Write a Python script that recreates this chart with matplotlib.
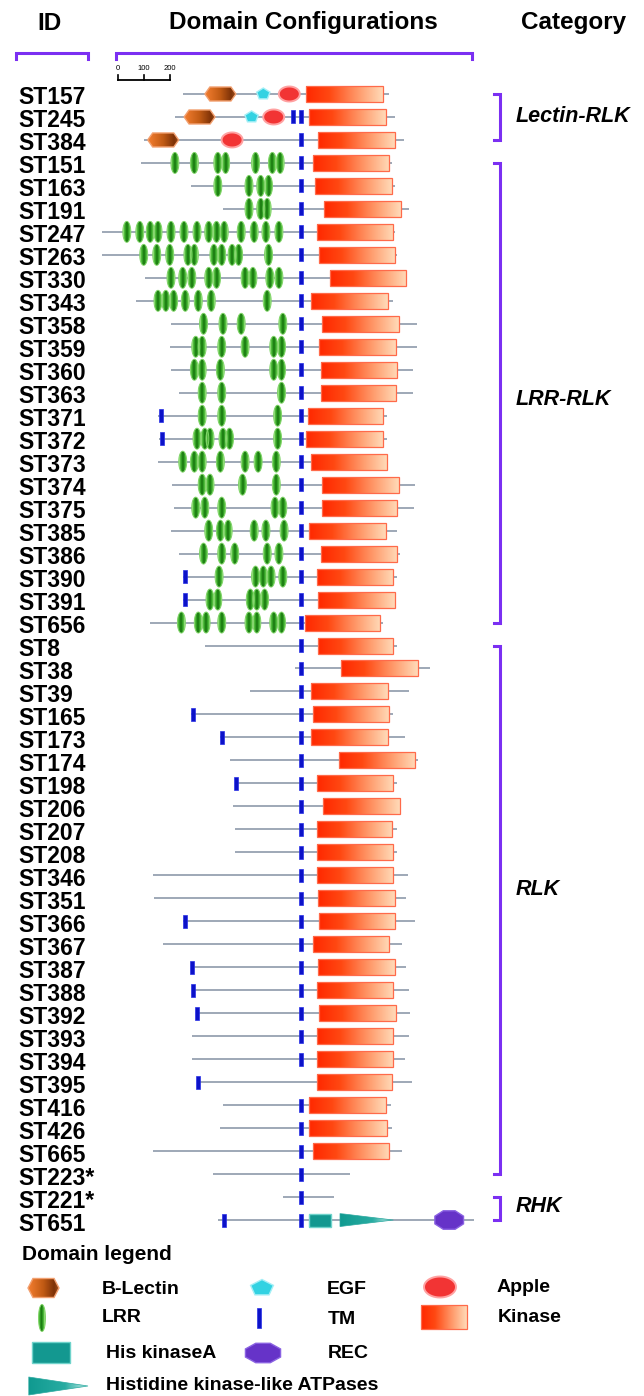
import numpy as np
import matplotlib
matplotlib.use("Agg")
import matplotlib.pyplot as plt
from matplotlib.patches import Polygon
from matplotlib.colors import LinearSegmentedColormap
from matplotlib.transforms import blended_transform_factory

plt.rcParams['font.family'] = ['Liberation Sans', 'DejaVu Sans']

# ---- data: positions in aa, relative to the aligned TM domain (0) ----
ids = ["ST157", "ST245", "ST384", "ST151", "ST163", "ST191", "ST247", "ST263", "ST330", "ST343",
       "ST358", "ST359", "ST360", "ST363", "ST371", "ST372", "ST373", "ST374", "ST375", "ST385",
       "ST386", "ST390", "ST391", "ST656", "ST8", "ST38", "ST39", "ST165", "ST173", "ST174",
       "ST198", "ST206", "ST207", "ST208", "ST346", "ST351", "ST366", "ST367", "ST387", "ST388",
       "ST392", "ST393", "ST394", "ST395", "ST416", "ST426", "ST665", "ST223*", "ST221*", "ST651"]

starts = [-455, -485, -605, -615, -425, -300, -765, -765, -600, -635,
          -500, -505, -500, -470, -550, -545, -550, -495, -490, -500,
          -470, -455, -455, -580, -370, -25, -195, -425, -310, -275,
          -255, -260, -255, -255, -570, -565, -455, -530, -425, -420,
          -405, -420, -420, -400, -300, -310, -570, -340, -70, -320]

ends = [340, 360, 395, 350, 360, 415, 360, 370, 405, 355,
        445, 445, 430, 430, 330, 330, 330, 440, 435, 370,
        380, 370, 365, 315, 370, 495, 415, 355, 400, 450,
        370, 385, 370, 370, 410, 405, 440, 390, 405, 415,
        420, 415, 400, 425, 345, 350, 390, 190, 125, 665]

kinase = [(20, 315), (30, 325), (65, 360), (45, 340), (55, 350), (90, 385), (60, 355), (70, 360),
          (110, 405), (40, 335), (80, 375), (70, 365), (75, 370), (75, 365), (25, 315), (20, 315),
          (40, 330), (80, 375), (80, 370), (30, 325), (75, 370), (60, 355), (65, 360), (15, 305),
          (65, 355), (155, 450), (40, 335), (45, 340), (40, 335), (145, 440), (60, 355), (85, 380),
          (60, 350), (60, 355), (60, 355), (65, 360), (70, 360), (45, 340), (65, 360), (60, 355),
          (70, 365), (60, 355), (60, 355), (60, 350), (30, 325), (30, 330), (45, 340),
          None, None, None]

tm = [[], [-30, 0], [0], [0], [0], [0], [0], [0], [0], [0],
      [0], [0], [0], [0], [-540, 0], [-535, 0], [0], [0], [0], [0],
      [0], [-445, 0], [-445, 0], [0], [0], [0], [0], [-415, 0], [-305, 0], [0],
      [-250, 0], [0], [0], [0], [0], [0], [-445, 0], [0], [-420, 0], [-415, 0],
      [-400, 0], [0], [0], [-395], [0], [0], [0], [0], [0], [-295, 0]]

lrr = {
    "ST151": [-485, -410, -320, -290, -175, -110, -80],
    "ST163": [-320, -200, -155, -125],
    "ST191": [-200, -155, -130],
    "ST247": [-670, -620, -580, -550, -500, -450, -400, -355, -325, -295, -230, -180, -135, -85],
    "ST263": [-605, -555, -505, -435, -410, -335, -305, -265, -240, -125],
    "ST330": [-500, -455, -420, -355, -325, -215, -185, -120, -85],
    "ST343": [-550, -520, -490, -445, -395, -345, -130],
    "ST358": [-375, -300, -230, -70],
    "ST359": [-405, -380, -305, -215, -105, -75],
    "ST360": [-410, -380, -310, -105, -75],
    "ST363": [-380, -305, -75],
    "ST371": [-380, -305, -90],
    "ST372": [-400, -370, -350, -300, -275, -90],
    "ST373": [-455, -410, -380, -310, -215, -165, -95],
    "ST374": [-380, -350, -225, -95],
    "ST375": [-405, -370, -305, -100, -70],
    "ST385": [-355, -310, -280, -180, -135, -65],
    "ST386": [-375, -305, -255, -130, -85],
    "ST390": [-315, -175, -145, -115, -70],
    "ST391": [-350, -320, -195, -170, -140],
    "ST656": [-460, -395, -365, -305, -200, -170, -105, -75],
}
lectin = {"ST157": -310, "ST245": -390, "ST384": -530}
egf = {"ST157": -145, "ST245": -190}
apple = {"ST157": -45, "ST245": -105, "ST384": -265}
hiska = {"ST651": (30, 115)}
atpase = {"ST651": (150, 355)}
rec = {"ST651": 570}

cat_names = ["Lectin-RLK", "LRR-RLK", "RLK", "RHK"]
cat_first = ["ST157", "ST151", "ST8", "ST221*"]
cat_last = ["ST384", "ST656", "ST223*", "ST651"]

# ---- layout ----
W, H = 644, 1396
TM_PX = 301          # x pixel of the aligned TM
PX_PER_AA = 0.26     # scale bar: 200 aa ~ 52 px
ROW0 = 94            # y pixel of first row
ROW_H = 22.98        # row spacing in px
SX, SY = 1 / PX_PER_AA, 1 / ROW_H
PURPLE = '#7b2ff2'
cat_label_row = [1, 13.3, 34.6, 48.4]

fig = plt.figure(figsize=(W / 100, H / 100), dpi=100, facecolor='white')
ov = fig.add_axes([0, 0, 1, 1])
ov.axis('off')
ax = fig.add_axes([0, 0, 1, 1])
ax.axis('off')
ax.patch.set_visible(False)
XL = (-TM_PX / PX_PER_AA, (W - TM_PX) / PX_PER_AA)
YL = ((H - ROW0) / ROW_H, -ROW0 / ROW_H)
ax.set_xlim(XL); ax.set_ylim(YL)
ov.set_xlim(0, W); ov.set_ylim(H, 0)

lab_tr = blended_transform_factory(ov.transData, ax.transData)   # x px, y row
bar_tr = blended_transform_factory(ax.transData, ov.transData)   # x aa, y px

cm_kin = LinearSegmentedColormap.from_list('kin', [(0, '#ff2800'), (0.3, '#ff4812'), (0.72, '#ffa274'), (1, '#ffdab8')])
cm_lrr = LinearSegmentedColormap.from_list('lrr', [(0, '#16700c'), (0.35, '#2e9d22'), (0.75, '#5cc444'), (1, '#b6ec9e')])
cm_lec = LinearSegmentedColormap.from_list('lec', [(0, '#f47e30'), (0.5, '#c05a14'), (0.85, '#7e3208'), (1, '#a0501c')])
cm_atp = LinearSegmentedColormap.from_list('atp', [(0, '#109a90'), (0.6, '#28aca2'), (1, '#c4eee8')])
PROF_LIN = np.linspace(0, 1, 128)
PROF_LRR = np.abs(np.linspace(-1, 1, 25))


def ell(cx, cy, w, h, n=48):
    t = np.linspace(0, 2 * np.pi, n, endpoint=False)
    return np.column_stack([cx + w / 2 * np.cos(t), cy + h / 2 * np.sin(t)])


def hexa(cx, cy, w, h, tip=0.16):
    return np.array([[cx - w / 2, cy], [cx - w / 2 + w * tip, cy - h / 2], [cx + w / 2 - w * tip, cy - h / 2],
                     [cx + w / 2, cy], [cx + w / 2 - w * tip, cy + h / 2], [cx - w / 2 + w * tip, cy + h / 2]])


def ngon(cx, cy, w, h, n, rot):
    t = np.deg2rad(rot + 360 * np.arange(n) / n)
    return np.column_stack([cx + w / 2 * np.cos(t), cy - h / 2 * np.sin(t)])


def rect(x0, x1, cy, h):
    return np.array([[x0, cy - h / 2], [x1, cy - h / 2], [x1, cy + h / 2], [x0, cy + h / 2]])


def tri(x0, x1, cy, h):
    return np.array([[x0, cy - h / 2], [x1, cy], [x0, cy + h / 2]])


def solid(a, v, fc, ec, lw=1.0, z=3):
    a.add_patch(Polygon(v, closed=True, fc=fc, ec=ec, lw=lw, zorder=z))


def shaded(a, v, cmap, prof, ec, lw=1.0, z=3):
    clip = Polygon(v, closed=True, transform=a.transData)
    im = a.imshow(prof.reshape(1, -1), cmap=cmap, vmin=0, vmax=1, aspect='auto',
                  interpolation='bilinear', zorder=z,
                  extent=(v[:, 0].min(), v[:, 0].max(), v[:, 1].max(), v[:, 1].min()))
    im.set_clip_path(clip)
    a.add_patch(Polygon(v, closed=True, fc='none', ec=ec, lw=lw, zorder=z + 0.01))


def d_lrr(a, x, y, sx, sy, w=8, h=21):
    shaded(a, ell(x, y, w * sx, h * sy), cm_lrr, PROF_LRR, '#80d468', 0.7)


def d_tm(a, x, y, sx, sy, w=4, h=13):
    solid(a, rect(x - w * sx / 2, x + w * sx / 2, y, h * sy), '#0c12c8', '#2830e6', 0.5, z=5)


def d_kin(a, x0, x1, y, sy, h=16):
    shaded(a, rect(x0, x1, y, h * sy), cm_kin, PROF_LIN, '#ff6a4a', 0.9)


def d_lectin(a, x, y, sx, sy, w=31, h=14):
    shaded(a, hexa(x, y, w * sx, h * sy), cm_lec, PROF_LIN, '#f2a070', 1.0)


def d_egf(a, x, y, sx, sy, w=14, h=12):
    solid(a, ngon(x, y, w * sx, h * sy, 5, 90), '#33d2e2', '#a4eff6', 1.0)


def d_apple(a, x, y, sx, sy, w=21, h=15):
    solid(a, ell(x, y, w * sx, h * sy), '#f23434', '#ffa2a2', 1.4)


def d_hiska(a, x0, x1, y, sy, h=13):
    solid(a, rect(x0, x1, y, h * sy), '#139890', '#6fd3cb', 1.0)


def d_atp(a, x0, x1, y, sy, h=13):
    shaded(a, tri(x0, x1, y, h * sy), cm_atp, PROF_LIN, '#2aa89f', 0.5)


def d_rec(a, x, y, sx, sy, w=31, h=20):
    solid(a, ngon(x, y, w * sx, h * sy, 8, 22.5), '#6633c8', '#8a62e2', 1.0)


# ---- protein rows ----
BASE = 10.5 / ROW_H   # text baseline below the row line
for r, pid in enumerate(ids):
    ax.plot([starts[r], ends[r]], [r, r], color='#8e99aa', lw=1.2, zorder=1, solid_capstyle='butt')
    for x in lrr.get(pid, []):
        d_lrr(ax, x, r, SX, SY)
    if pid in lectin:
        d_lectin(ax, lectin[pid], r, SX, SY)
    if pid in egf:
        d_egf(ax, egf[pid], r, SX, SY)
    if pid in apple:
        d_apple(ax, apple[pid], r, SX, SY)
    if kinase[r]:
        d_kin(ax, kinase[r][0], kinase[r][1], r, SY)
    if pid in hiska:
        d_hiska(ax, hiska[pid][0], hiska[pid][1], r, SY)
    if pid in atpase:
        d_atp(ax, atpase[pid][0], atpase[pid][1], r, SY)
    if pid in rec:
        d_rec(ax, rec[pid], r, SX, SY)
    for x in tm[r]:
        d_tm(ax, x, r, SX, SY)
    ov.text(18, r + BASE, pid, transform=lab_tr, fontsize=16.5, fontweight='bold',
            va='baseline', ha='left')

# ---- headers and brackets ----
ov.text(50, 23, 'ID', fontsize=17.5, fontweight='bold', ha='center', va='center')
ov.text(303, 23, 'Domain Configurations', fontsize=17.5, fontweight='bold', ha='center', va='center')
ov.text(574, 23, 'Category', fontsize=17.5, fontweight='bold', ha='center', va='center')
for x0, x1 in [(15.6, 88.5), (116, 472)]:
    ov.plot([x0, x0, x1, x1], [59, 53, 53, 59], color=PURPLE, lw=2.2, solid_joinstyle='miter')

for name, a, b, yl in zip(cat_names, cat_first, cat_last, cat_label_row):
    r0, r1 = ids.index(a), ids.index(b)
    ov.plot([494, 500, 500, 494], [r0, r0, r1, r1], transform=lab_tr, color=PURPLE, lw=2.2,
            solid_joinstyle='miter')
    ov.text(516, yl, name, transform=lab_tr, fontsize=15.5, fontweight='bold', style='italic',
            va='center', ha='left')

# scale bar
SB0 = -705
ax.plot([SB0, SB0 + 200], [79.5, 79.5], transform=bar_tr, color='black', lw=1.3)
for t in [0, 100, 200]:
    ax.plot([SB0 + t, SB0 + t], [74.5, 79.5], transform=bar_tr, color='black', lw=1.2)
    ax.text(SB0 + t, 68, str(t), transform=bar_tr, fontsize=5.5, ha='center', va='center')

# ---- legend ----
ov.text(22.5, 1255, 'Domain legend', fontsize=15, fontweight='bold', va='center')
lkw = dict(fontsize=14, fontweight='bold', va='center', ha='left')
d_lectin(ov, 43.5, 1288, 1, 1, w=31, h=19)
ov.text(101.6, 1289, 'B-Lectin', **lkw)
d_egf(ov, 262, 1288, 1, 1, w=24, h=17)
ov.text(326.6, 1290, 'EGF', **lkw)
d_apple(ov, 440, 1287, 1, 1, w=32, h=21)
ov.text(497, 1287, 'Apple', **lkw)
d_lrr(ov, 42, 1318, 1, 1, w=7, h=27)
ov.text(101.6, 1318, 'LRR', **lkw)
d_tm(ov, 259, 1318, 1, 1, w=4, h=20)
ov.text(328, 1319, 'TM', **lkw)
d_kin(ov, 421, 467, 1317, 1, h=24)
ov.text(498, 1317, 'Kinase', **lkw)
d_hiska(ov, 32, 70.5, 1352, 1, h=21)
ov.text(105.7, 1354, 'His kinaseA', **lkw)
d_rec(ov, 263, 1353, 1, 1, w=38, h=21)
ov.text(328, 1354, 'REC', **lkw)
d_atp(ov, 28.7, 88, 1386, 1, h=18)
ov.text(105.7, 1385, 'Histidine kinase-like ATPases', **lkw)

ax.set_xlim(XL); ax.set_ylim(YL)
ov.set_xlim(0, W); ov.set_ylim(H, 0)
fig.savefig('out.png', dpi=100)
